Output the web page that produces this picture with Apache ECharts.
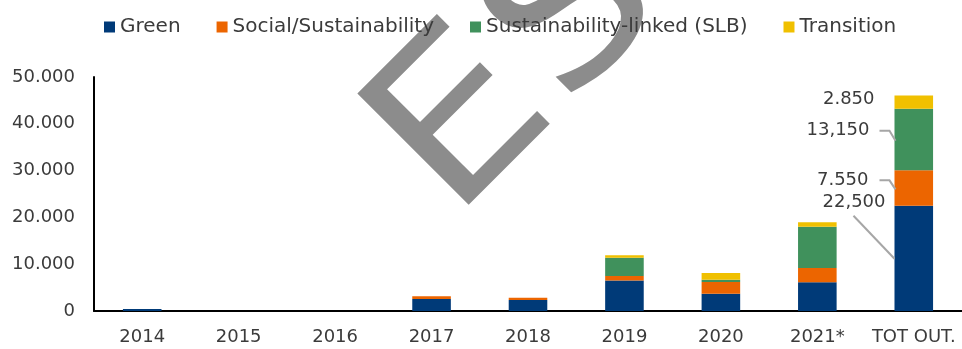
<!DOCTYPE html>
<html>
<head>
<meta charset="utf-8">
<style>
  html, body { margin: 0; padding: 0; background: #ffffff; }
  #chart { width: 962px; height: 349px; }
</style>
<script src="https://cdn.jsdelivr.net/npm/echarts@6/dist/echarts.min.js"></script>
</head>
<body>
<div id="chart"></div>
<script>
// Issuance by bond type, per year plus total outstanding
const categories = ['2014', '2015', '2016', '2017', '2018', '2019', '2020', '2021*', 'TOT OUT.'];
const green      = [450, 0, 0, 2550, 2350, 6500, 3700, 6150, 22500];
const social     = [0, 0, 0, 600, 500, 1000, 2500, 3050, 7550];
const slb        = [0, 0, 0, 0, 0, 3900, 500, 8800, 13150];
const transition = [0, 0, 0, 0, 0, 500, 1400, 950, 2850];

// Texts printed next to the total-outstanding column
const totLabels = { green: '22,500', social: '7.550', slb: '13,150', transition: '2.850' };

const yTickLabels = ['0', '10.000', '20.000', '30.000', '40.000', '50.000'];
const seriesNames = ['Green', 'Social/Sustainability', 'Sustainability-linked (SLB)', 'Transition'];

const FONT = 'DejaVu Sans';
const TEXT = '#3b3b3b';
const LAST = categories.length - 1;
const BAR_RATIO = 0.4;

function withTotLabel(values) {
  return values.map((v, i) => i === LAST ? { value: v, label: { show: true } } : v);
}

// Places a label to the left of the column segment
function leftLabel(dx, dy) {
  return function (p) {
    const r = p.rect;
    return { x: r.x + dx, y: r.y + dy, align: 'right', verticalAlign: 'middle' };
  };
}

function barSeries(name, values, color, text, layout) {
  return {
    name: name,
    type: 'bar',
    stack: 'total',
    barWidth: (BAR_RATIO * 100) + '%',
    itemStyle: { color: color },
    data: withTotLabel(values),
    label: {
      show: false,
      formatter: () => text,
      fontFamily: FONT,
      fontSize: 18,
      color: TEXT
    },
    labelLayout: layout
  };
}

// Large grey diagonal lettering behind the plot
function stampLetter(ch, x, sx) {
  return {
    type: 'text',
    x: x,
    y: 0,
    scaleX: sx,
    silent: true,
    style: {
      text: ch,
      font: '216px "DejaVu Sans"',
      fill: '#8c8c8c',
      align: 'left',
      verticalAlign: 'middle'
    }
  };
}
const watermark = {
  id: 'wm',
  type: 'group',
  z: -10,
  silent: true,
  x: 412,
  y: 182,
  rotation: Math.PI / 4,
  children: [stampLetter('E', 0, 1.13), stampLetter('S', 160, 1.08)]
};

const chart = echarts.init(document.getElementById('chart'), null, { renderer: 'canvas' });

chart.setOption({
  animation: false,
  backgroundColor: '#ffffff',
  textStyle: { fontFamily: FONT },
  graphic: [watermark],
  legend: {
    data: seriesNames,
    left: 99,
    top: 12,
    icon: 'rect',
    itemWidth: 11,
    itemHeight: 11,
    itemGap: 36,
    textStyle: { fontFamily: FONT, fontSize: 20, color: TEXT }
  },
  grid: { left: 94, right: 0, top: 77, bottom: 38, containLabel: false },
  xAxis: {
    type: 'category',
    data: categories,
    axisLine: { lineStyle: { color: '#000000', width: 2 } },
    axisTick: { show: false },
    axisLabel: { fontFamily: FONT, fontSize: 18, color: TEXT, margin: 17, interval: 0 }
  },
  yAxis: {
    type: 'value',
    min: 0,
    max: 50000,
    interval: 10000,
    splitLine: { show: false },
    axisLine: { show: true, lineStyle: { color: '#000000', width: 2 } },
    axisTick: { show: false },
    axisLabel: {
      fontFamily: FONT, fontSize: 18, color: TEXT, margin: 19,
      formatter: v => yTickLabels[Math.round(v / 10000)]
    }
  },
  series: [
    barSeries(seriesNames[0], green, '#003A78', totLabels.green, leftLabel(-9, -3)),
    barSeries(seriesNames[1], social, '#EC6500', totLabels.social, leftLabel(-26, 10)),
    barSeries(seriesNames[2], slb, '#40915C', totLabels.slb, leftLabel(-25, 22)),
    barSeries(seriesNames[3], transition, '#F0C000', totLabels.transition, leftLabel(-20, 4))
  ]
});

// Guide lines from the total labels to their column segments
const xCenter = chart.convertToPixel({ xAxisIndex: 0 }, LAST);
const band = xCenter - chart.convertToPixel({ xAxisIndex: 0 }, LAST - 1);
const barLeft = xCenter - band * BAR_RATIO / 2;
const yOf = v => chart.convertToPixel({ yAxisIndex: 0 }, v);
const greenTop = yOf(green[LAST]);
const socialTop = yOf(green[LAST] + social[LAST]);
const slbTop = yOf(green[LAST] + social[LAST] + slb[LAST]);

function guide(id, pts) {
  return {
    id: id,
    type: 'polyline',
    z: 10,
    silent: true,
    shape: { points: pts },
    style: { stroke: '#a6a6a6', lineWidth: 2, fill: null }
  };
}

chart.setOption({
  graphic: [
    watermark,
    guide('g-green', [[barLeft - 41, greenTop + 10], [barLeft, greenTop + 53]]),
    guide('g-social', [[barLeft - 15, socialTop + 10], [barLeft - 5, socialTop + 10], [barLeft + 1, socialTop + 19]]),
    guide('g-slb', [[barLeft - 15, slbTop + 22], [barLeft - 5, slbTop + 22], [barLeft + 1, slbTop + 32]])
  ]
});
</script>
</body>
</html>
